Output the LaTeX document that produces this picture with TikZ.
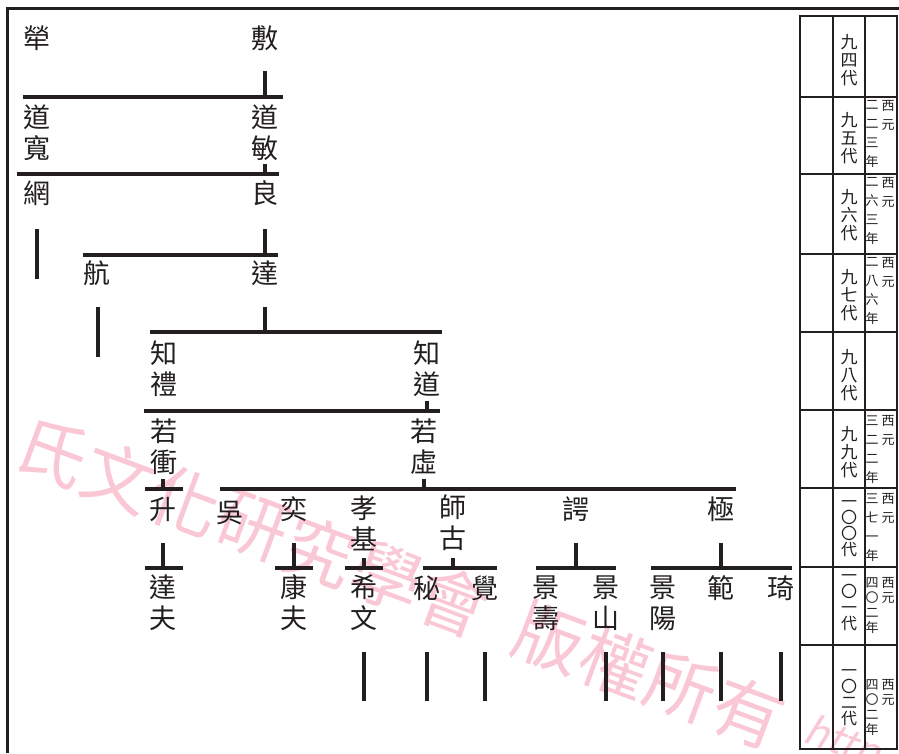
\documentclass[tikz,border=0pt]{standalone}
\usepackage{fontspec}
\newfontfamily\cjk{Noto Sans CJK TC}
\newfontfamily\wmlat[FakeSlant=0.2]{Noto Sans CJK TC}
\definecolor{wmpink}{RGB}{250,200,213}
\definecolor{ink}{RGB}{35,31,32}
\begin{document}
\begin{tikzpicture}[x=1pt,y=-1pt,
  nm/.style={font=\fontsize{27}{31}\selectfont\cjk, align=center, inner sep=0pt, text=ink},
  gen/.style={font=\fontsize{17}{18}\selectfont\cjk, align=center, inner sep=0pt, text=ink},
  genf/.style={font=\fontsize{16}{16}\selectfont\cjk, align=center, inner sep=0pt, text=ink},
  yrs/.style={font=\fontsize{13}{19}\selectfont\cjk, align=center, inner sep=0pt, anchor=north, text=ink},
  yrsf/.style={font=\fontsize{13}{15}\selectfont\cjk, align=center, inner sep=0pt, anchor=north, text=ink},
  ln/.style={line width=4pt, draw=ink},
  tb/.style={line width=2.5pt, draw=ink},
  fr/.style={line width=3pt, draw=ink},
  wm/.style={font=\fontsize{70}{70}\selectfont\cjk, text=wmpink, rotate=-20.3, inner sep=0pt}]
\useasboundingbox (0,0) rectangle (899,753);
\fill[white] (0,0) rectangle (899,753);
\begin{scope}
\clip (0,0) rectangle (899,753);
% watermark
\foreach \c [count=\i from 0] in {氏,文,化,研,究,學,會}
  \node[wm] (wma\i) at ({52+\i*67},{452+\i*25}) {\c};
\foreach \c [count=\i from 0] in {版,權,所,有}
  \node[wm] (wmb\i) at ({52+(7.5+\i)*66.3},{452+(7.5+\i)*24.8}) {\c};
\node[wm, font=\fontsize{40}{40}\selectfont\wmlat] (wmh) at (842,744) {http};

% frame
\coordinate (fa) at (7,753); \coordinate (fb) at (7,8); \coordinate (fc) at (899,8);
\draw[fr] (fa) -- (fb) -- (fc);

% table
\draw[tb] (800,16) rectangle (897,749);
\foreach \x in {833,865} \draw[tb] (\x,16) -- (\x,749);
\foreach \y in {97,174,254,332,410,488,567,645} \draw[tb] (800,\y) -- (897,\y);

\node[gen] (g94) at (849,60) {九\\四\\代};
\node[gen] (g95) at (849,138) {九\\五\\代};
\node[gen] (g96) at (849,215) {九\\六\\代};
\node[gen] (g97) at (849,295) {九\\七\\代};
\node[gen] (g98) at (849,375) {九\\八\\代};
\node[gen] (g99) at (849,452) {九\\九\\代};
\node[genf] (g100) at (849,529) {一\\〇\\〇\\代};
\node[genf] (g101) at (849,603) {一\\〇\\一\\代};
\node[genf] (g102) at (849,698) {一\\〇\\二\\代};

\node[yrs] (y95l) at (872,100.5) {二\\二\\三\\年};
\node[yrs] (y95r) at (888,100.5) {西\\元};
\node[yrs] (y96l) at (872,177) {二\\六\\三\\年};
\node[yrs] (y96r) at (888,177) {西\\元};
\node[yrs] (y97l) at (872,257) {二\\八\\六\\年};
\node[yrs] (y97r) at (888,257) {西\\元};
\node[yrs] (y99l) at (872,415.5) {三\\二\\二\\年};
\node[yrs] (y99r) at (888,415.5) {西\\元};
\node[yrs] (y100l) at (872,493.5) {三\\七\\一\\年};
\node[yrs] (y100r) at (888,493.5) {西\\元};
\node[yrsf] (y101l) at (872,577) {四\\〇\\二\\年};
\node[yrsf] (y101r) at (888,577) {西\\元};
\node[yrsf] (y102l) at (872,679) {四\\〇\\二\\年};
\node[yrsf] (y102r) at (888,679) {西\\元};

% tree nodes
\node[nm] (luo) at (37,38) {犖};
\node[nm] (fu) at (265,38) {敷};
\node[nm] (dk) at (37,133) {道\\寬};
\node[nm] (dm) at (265,133) {道\\敏};
\node[nm] (wang) at (37,193) {網};
\node[nm] (liang) at (265,193) {良};
\node[nm] (hang) at (97,273) {航};
\node[nm] (da) at (265,273) {達};
\node[nm] (zl) at (164,369) {知\\禮};
\node[nm] (zd) at (427,369) {知\\道};
\node[nm] (rh) at (164,447) {若\\衝};
\node[nm] (rx) at (424,447) {若\\虛};
\node[nm] (sheng) at (163,509) {升};
\node[nm] (wu) at (230,513) {吳};
\node[nm] (yi) at (294,509) {奕};
\node[nm] (xj) at (364,523) {孝\\基};
\node[nm] (sg) at (453,523) {師\\古};
\node[nm] (eh) at (576,509) {諤};
\node[nm] (ji) at (721,509) {極};
\node[nm] (df) at (163,603) {達\\夫};
\node[nm] (kf) at (294,603) {康\\夫};
\node[nm] (xw) at (364,603) {希\\文};
\node[nm] (mi) at (427,588) {秘};
\node[nm] (jue) at (485,588) {覺};
\node[nm] (jsu) at (546,603) {景\\壽};
\node[nm] (jsh) at (606,603) {景\\山};
\node[nm] (jy) at (663,603) {景\\陽};
\node[nm] (fan) at (721,588) {範};
\node[nm] (qi) at (781,588) {琦};

% bars
\coordinate (b1l) at (23,97);   \coordinate (b1r) at (283,97);
\coordinate (b2l) at (17,174);  \coordinate (b2r) at (279,174);
\coordinate (b3l) at (83,255);  \coordinate (b3r) at (278,255);
\coordinate (b4l) at (150,332); \coordinate (b4r) at (442,332);
\coordinate (b5l) at (144,411); \coordinate (b5r) at (440,411);
\coordinate (b6l) at (145,489); \coordinate (b6r) at (183,489);
\coordinate (b7l) at (220,489); \coordinate (b7r) at (736,489);
\coordinate (c1l) at (145,568); \coordinate (c1r) at (183,568);
\coordinate (c2l) at (275,568); \coordinate (c2r) at (313,568);
\coordinate (c3l) at (345,568); \coordinate (c3r) at (383,568);
\coordinate (c4l) at (423,568); \coordinate (c4r) at (497,568);
\coordinate (c5l) at (536,568); \coordinate (c5r) at (616,568);
\coordinate (c6l) at (651,568); \coordinate (c6r) at (792,568);
\foreach \b in {b1,b2,b3,b4,b5,b6,b7,c1,c2,c3,c4,c5,c6}
  \draw[ln] (\b l) -- (\b r);

% ticks from parents
\draw[ln] (fu |- 0,71) -- (fu |- b1l);
\draw[ln] (dm |- 0,164) -- (dm |- b2l);
\draw[ln] (liang |- 0,229) -- (liang |- b3l);
\draw[ln] (da |- 0,307) -- (da |- b4l);
\draw[ln] (zd |- 0,401) -- (zd |- b5l);
\draw[ln] (163,479) -- (163,489);
\draw[ln] (rx |- 0,479) -- (rx |- b7l);
\draw[ln] (sheng |- 0,543) -- (sheng |- c1l);
\draw[ln] (yi |- 0,543) -- (yi |- c2l);
\draw[ln] (xj |- 0,558) -- (xj |- c3l);
\draw[ln] (sg |- 0,558) -- (sg |- c4l);
\draw[ln] (eh |- 0,543) -- (eh |- c5l);
\draw[ln] (ji |- 0,543) -- (ji |- c6l);

% descent lines
\draw[ln] (wang |- 0,229) -- (wang |- 0,279);
\draw[ln] (98,307) -- (98,357);
\foreach \n in {xw,mi,jue,jsh,jy,fan,qi}
  \draw[ln] (\n |- 0,652) -- (\n |- 0,701);
\end{scope}
\end{tikzpicture}
\end{document}
